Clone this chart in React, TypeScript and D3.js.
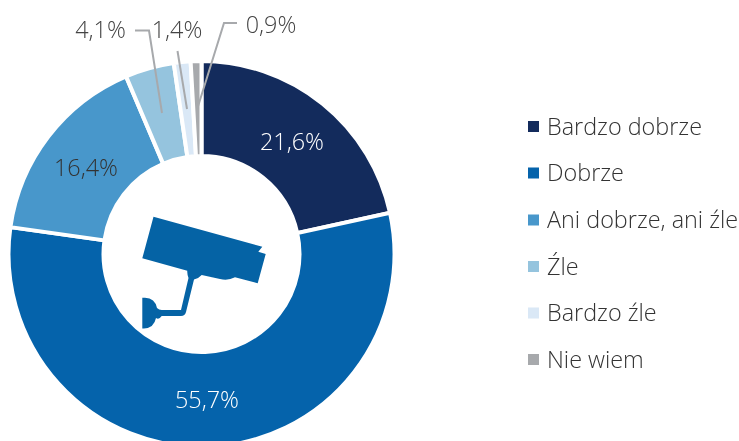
import React from "react";
import * as d3 from "d3";

const categories = ["Bardzo dobrze", "Dobrze", "Ani dobrze, ani źle", "Źle", "Bardzo źle", "Nie wiem"];
const values = [21.6, 55.7, 16.4, 4.1, 1.4, 0.9];
const valueLabels = ["21,6%", "55,7%", "16,4%", "4,1%", "1,4%", "0,9%"];
const colors = ["#132b5c", "#0563ab", "#4897cb", "#95c4de", "#dae8f6", "#a7a9ac"];
const labelColors = ["#ffffff", "#ffffff", "#333333", "#444444", "#444444", "#444444"];
const labelPositions: [number, number][] = [[292, 142], [207, 400], [86, 168], [100.5, 30], [177, 30], [271, 25]];
const leaders = [
  "M135,30.5 H149 L162,113",
  "M177.5,51 L187,109",
  "M237,23 H224 L197.5,108",
];
const legendY = [126.5, 173, 220, 266.5, 313, 359.5];

const font = "'Open Sans', sans-serif";

export default function App() {
  const pie = d3.pie<number>().sort(null).startAngle(0).endAngle(2 * Math.PI);
  const arc = d3.arc<d3.PieArcDatum<number>>().innerRadius(98).outerRadius(193);
  const arcs = pie(values);
  return (
    <svg width={739} height={441} style={{ position: "fixed", left: 0, top: 0, fontFamily: font, fontWeight: 300 }}>
      <g transform="translate(201.5,254)">
        {arcs.map((a, i) => (
          <path key={i} d={arc(a) as string} fill={colors[i]} stroke="#fff" strokeWidth={4} />
        ))}
      </g>
      {leaders.map((d, i) => (
        <path key={i} d={d} fill="none" stroke="#a7a9ac" strokeWidth={2} />
      ))}
      {valueLabels.map((t, i) => (
        <text key={i} x={labelPositions[i][0]} y={labelPositions[i][1]} dy="0.36em" textAnchor="middle" fontSize={23.4} fill={labelColors[i]}>
          {t}
        </text>
      ))}
      <path
        fill="#0563a5"
        d="M153.5,216.7 L262.3,246.7 L258.3,251.7 L265.7,254 L257.7,283.3 L235,277.3 Q228,281 220,279 L201.7,275 Q198,279 194,279.5 L186,312 Q185,316 181,316 L161.7,316 Q159,320 156,318 Q154,328 144,328.5 L142.3,328.5 L142.3,297.7 L145,297.7 Q155,298 157,308 Q159,310 161.7,310 L181,310 L188.5,278 Q187,274 187.3,270.7 L142.3,258.3 Z"
      />
      {categories.map((c, i) => (
        <g key={c}>
          <rect x={528} y={legendY[i] - 5.5} width={11} height={11} fill={colors[i]} />
          <text x={547} y={legendY[i]} dy="0.36em" fontSize={23.4} fill="#333333">
            {c}
          </text>
        </g>
      ))}
    </svg>
  );
}
